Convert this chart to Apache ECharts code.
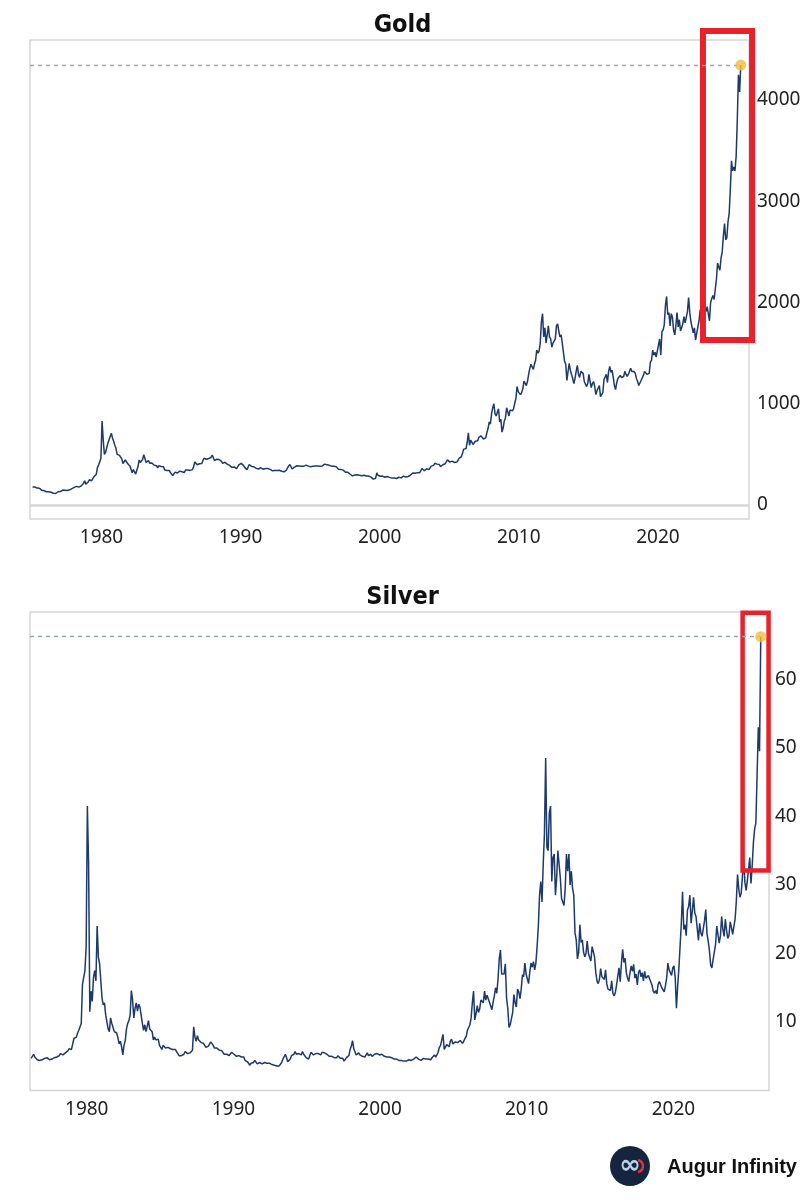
<!DOCTYPE html>
<html>
<head>
<meta charset="utf-8">
<script src="https://cdn.jsdelivr.net/npm/echarts@6/dist/echarts.min.js"></script>
<style>
html,body{margin:0;padding:0;background:#fff;}
#c{width:805px;height:1200px;}
</style>
</head>
<body>
<div id="c"></div>
<script>
// ---------- DATA ----------
// Gold, monthly, Jan 1975 - Dec 2025 (USD/oz)
const goldStart = [1975, 0];
const goldValues = [
/*1975*/178,181,178,170,167,165,166,161,145,143,142,139,
/*1976*/131,132,131,128,126,125,117,104,114,116,131,134,
/*1977*/133,142,148,149,146,141,143,145,150,159,162,161,
/*1978*/174,179,184,172,177,183,189,208,214,240,206,200,
/*1979*/227,250,240,240,258,280,296,305,370,395,385,460,
/*1980*/830,640,500,520,520,610,645,630,710,660,630,590,
/*1981*/560,500,510,490,480,455,410,415,445,435,410,405,
/*1982*/385,370,320,350,335,306,345,380,445,420,415,450,
/*1983*/498,460,420,435,440,412,425,415,410,392,382,388,
/*1984*/368,388,398,380,376,378,345,350,340,338,342,318,
/*1985*/300,292,310,325,318,316,320,335,322,328,325,322,
/*1986*/346,338,345,340,342,342,350,380,425,422,398,390,
/*1987*/408,402,410,440,462,448,452,462,460,468,470,494,
/*1988*/476,440,445,452,452,450,436,432,412,405,422,418,
/*1989*/404,388,392,384,370,368,376,362,360,366,396,410,
/*1990*/412,420,392,372,368,350,364,400,390,380,382,378,
/*1991*/384,362,364,356,358,368,366,354,350,360,362,360,
/*1992*/354,352,344,338,338,342,355,342,346,344,335,334,
/*1993*/330,328,332,344,368,374,400,378,356,364,374,384,
/*1994*/388,382,386,376,382,386,384,380,394,390,384,380,
/*1995*/378,376,384,392,386,388,386,384,384,384,386,388,
/*1996*/404,412,398,394,392,385,384,388,382,380,378,368,
/*1997*/354,346,352,344,345,340,324,325,323,325,304,288,
/*1998*/288,298,296,308,298,292,294,284,290,296,294,290,
/*1999*/287,288,286,282,276,262,256,256,265,318,294,283,
/*2000*/284,302,286,280,274,286,282,274,273,270,266,272,
/*2001*/266,262,262,260,274,270,268,274,286,282,276,276,
/*2002*/282,296,294,302,316,322,314,310,320,318,320,336,
/*2003*/360,358,338,328,358,356,350,360,384,378,392,412,
/*2004*/418,404,410,400,380,392,398,402,408,422,446,440,
/*2005*/424,424,434,430,420,432,424,438,460,470,478,514,
/*2006*/552,556,558,620,712,590,640,630,598,584,630,630,
/*2007*/634,668,652,682,666,652,668,664,716,758,820,800,
/*2008*/900,960,1000,900,880,886,950,820,850,720,760,830,
/*2009*/860,960,920,880,940,940,930,950,1005,1050,1170,1120,
/*2010*/1110,1090,1110,1150,1225,1240,1180,1220,1290,1350,1390,1400,
/*2011*/1340,1390,1430,1530,1500,1520,1600,1810,1890,1660,1750,1600,
/*2012*/1680,1770,1660,1640,1560,1600,1590,1640,1770,1790,1720,1660,
/*2013*/1680,1600,1600,1420,1390,1230,1320,1400,1330,1320,1250,1200,
/*2014*/1250,1320,1380,1290,1260,1320,1320,1300,1220,1230,1170,1200,
/*2015*/1290,1220,1160,1200,1220,1170,1090,1130,1120,1180,1070,1060,
/*2016*/1110,1240,1230,1290,1210,1320,1370,1310,1330,1260,1180,1140,
/*2017*/1210,1250,1250,1280,1260,1250,1270,1320,1290,1270,1290,1300,
/*2018*/1350,1320,1330,1320,1300,1250,1220,1180,1190,1230,1220,1280,
/*2019*/1320,1310,1290,1280,1300,1410,1430,1530,1480,1510,1460,1520,
/*2020*/1580,1640,1480,1710,1730,1780,1970,2060,1880,1900,1770,1890,
/*2021*/1860,1730,1680,1770,1900,1760,1830,1720,1750,1790,1860,1800,
/*2022*/1800,1910,2050,1900,1810,1810,1700,1750,1630,1640,1760,1820,
/*2023*/1930,1820,1980,2000,1960,1910,1960,1890,1820,2000,2040,2070,
/*2024*/2030,2020,2230,2390,2350,2320,2440,2500,2660,2780,2620,2640,
/*2025*/2800,2880,3120,3400,3300,3340,3300,3440,3800,4250,4080,4345
];
// Silver, monthly, Mar 1976 - Dec 2025 (USD/oz)
const silverStart = [1976, 2];
const silverValues = [
/*1976*/4.7,4.9,5.3,4.9,4.8,4.5,4.4,4.4,4.5,4.5,
/*1977*/4.5,4.7,4.9,4.8,4.7,4.5,4.5,4.6,4.6,4.8,4.9,4.9,
/*1978*/5.0,5.1,5.4,5.2,5.2,5.4,5.5,5.6,5.8,6.1,6.0,6.0,
/*1979*/6.2,7.6,7.4,7.8,8.4,8.8,9.3,9.8,15.5,16.5,17.5,21.0,
/*1980*/41.5,33.0,11.5,14.5,13.0,16.5,17.5,16.0,24.0,19.5,18.5,16.0,
/*1981*/13.5,12.5,12.8,11.0,10.8,9.0,8.6,10.6,9.8,9.2,8.6,8.4,
/*1982*/8.4,7.7,6.8,7.2,6.4,5.2,6.6,7.3,9.0,9.8,10.2,11.0,
/*1983*/14.6,13.2,10.6,12.0,12.8,11.6,12.6,12.2,11.0,9.8,8.8,9.6,
/*1984*/8.6,9.4,10.2,9.0,8.8,8.6,7.4,7.8,7.4,7.2,7.5,6.6,
/*1985*/6.3,6.0,6.6,6.4,6.2,6.1,6.3,6.3,6.1,6.2,6.0,5.9,
/*1986*/6.0,5.7,5.6,5.1,5.2,5.1,5.0,5.3,5.7,5.6,5.4,5.4,
/*1987*/5.5,5.5,5.9,9.3,7.8,7.2,8.0,7.4,7.6,7.0,6.8,6.9,
/*1988*/6.6,6.3,6.4,6.5,6.6,7.1,6.9,6.6,6.2,6.2,6.2,6.1,
/*1989*/5.9,5.8,5.8,5.7,5.3,5.2,5.3,5.1,5.1,5.2,5.6,5.6,
/*1990*/5.3,5.3,5.0,5.0,5.1,5.0,4.9,4.8,4.9,4.4,4.2,4.2,
/*1991*/4.0,3.7,4.0,4.0,4.1,4.4,4.3,3.9,4.1,4.1,4.0,3.9,
/*1992*/4.1,4.1,4.0,4.0,4.0,4.0,3.9,3.8,3.8,3.7,3.7,3.6,
/*1993*/3.7,3.6,3.6,4.1,4.6,4.4,5.3,4.8,4.2,4.3,4.6,5.1,
/*1994*/5.2,5.3,5.7,5.3,5.4,5.4,5.3,5.2,5.7,5.3,5.1,4.8,
/*1995*/4.7,4.6,4.5,5.6,5.4,5.2,5.2,5.4,5.5,5.4,5.2,5.2,
/*1996*/5.6,5.6,5.5,5.4,5.3,5.1,5.0,5.2,5.0,4.8,4.8,4.8,
/*1997*/4.8,5.1,5.2,4.7,4.8,4.7,4.3,4.5,4.8,5.0,5.1,6.0,
/*1998*/6.5,7.3,6.1,6.3,5.2,5.3,5.5,5.2,5.0,5.0,5.0,4.9,
/*1999*/5.2,5.5,5.1,5.0,5.3,5.0,5.2,5.3,5.5,5.4,5.2,5.2,
/*2000*/5.2,5.3,5.1,5.0,5.0,4.9,4.9,4.9,4.9,4.8,4.7,4.6,
/*2001*/4.7,4.6,4.4,4.4,4.4,4.4,4.2,4.3,4.4,4.3,4.2,4.5,
/*2002*/4.5,4.4,4.6,4.6,4.8,4.9,5.0,4.6,4.6,4.4,4.5,4.7,
/*2003*/4.9,4.6,4.5,4.6,4.6,4.5,4.8,5.0,5.2,4.9,5.2,5.6,
/*2004*/6.3,6.6,7.4,8.2,6.0,6.0,6.7,6.6,6.4,7.2,7.5,6.8,
/*2005*/6.7,7.1,7.3,7.0,7.0,7.3,7.1,6.9,7.2,7.6,7.9,8.8,
/*2006*/9.2,9.6,10.6,12.8,14.5,10.3,11.2,12.4,11.4,11.9,13.2,13.4,
/*2007*/12.8,14.5,13.2,13.9,13.4,12.9,12.9,11.8,12.9,13.8,15.0,14.2,
/*2008*/16.2,19.2,20.5,17.0,16.8,17.0,18.5,13.5,12.0,9.2,9.6,10.5,
/*2009*/11.4,14.0,12.8,12.2,14.8,14.4,13.4,14.8,16.9,16.6,18.6,17.0,
/*2010*/17.2,15.6,17.3,18.6,18.0,18.8,17.6,18.6,21.0,24.0,28.5,30.5,
/*2011*/27.5,33.0,37.5,48.5,35.5,35.0,40.5,41.5,30.5,34.0,34.5,28.5,
/*2012*/31.0,35.0,33.0,31.0,28.0,27.5,27.0,29.5,34.5,32.0,34.5,30.0,
/*2013*/32.0,29.5,28.5,23.0,22.0,19.2,20.2,24.2,21.6,22.0,20.2,19.5,
/*2014*/20.0,21.8,20.0,19.4,18.9,21.0,21.2,19.5,17.2,16.0,15.6,16.2,
/*2015*/17.8,16.6,16.6,16.2,17.6,15.6,14.8,14.6,14.6,16.0,14.2,13.8,
/*2016*/14.3,15.4,15.4,17.9,15.9,18.6,20.6,18.7,19.3,17.2,16.4,15.9,
/*2017*/17.2,18.2,17.4,18.4,16.4,17.0,15.4,17.2,17.6,16.6,17.2,16.0,
/*2018*/17.4,16.4,16.5,16.8,16.3,16.5,15.4,14.5,14.2,14.6,14.1,15.5,
/*2019*/15.9,15.8,15.0,14.9,14.4,15.3,16.4,18.6,17.6,17.8,16.8,17.9,
/*2020*/18.2,16.5,12.0,15.2,17.8,17.8,24.4,29.0,23.5,24.2,22.6,26.3,
/*2021*/26.9,28.5,24.4,26.2,28.2,25.9,25.4,23.7,21.9,24.4,23.0,22.5,
/*2022*/22.3,24.8,26.4,22.9,21.8,20.4,18.3,17.9,19.1,19.2,21.3,24.0,
/*2023*/23.8,21.5,22.6,25.4,23.5,22.5,25.0,23.4,22.2,22.6,24.6,23.8,
/*2024*/22.8,22.6,25.0,27.6,31.5,29.4,28.2,28.8,31.2,33.8,30.4,29.2,
/*2025*/30.6,32.2,34.0,30.2,32.8,36.2,38.2,39.0,46.0,53.0,49.5,66.2
];
const goldTicks = [0, 1000, 2000, 3000, 4000];
const silverTicks = [10, 20, 30, 40, 50, 60];
const yearTicks = [1980, 1990, 2000, 2010, 2020];
// highlight boxes, in data terms: [fromYear, toYear, low, high]
const goldHighlight = [2023.24, 2026.77, 1630, 4681];
const silverHighlight = [2024.72, 2026.49, 32.1, 69.7];

// ---------- helpers ----------
// x positions are decimal years (mid-month)
function buildSeries(start, values) {
  return values.map((v, i) => [start[0] + (start[1] + i + 0.5) / 12, v]);
}
const goldData = buildSeries(goldStart, goldValues);
const silverData = buildSeries(silverStart, silverValues);

const LINE = '#1c3a6c';
const FONT = 'Noto Sans';
const BORDER = '#d6d6d6';
const TITLE_FONT = 'Liberation Sans Narrow, DejaVu Sans Condensed';

function xAxisCfg(gridIndex, min, max) {
  return {
    type: 'value', gridIndex, min, max,
    axisLine: {show: false}, axisTick: {show: false}, splitLine: {show: false},
    axisLabel: {
      customValues: yearTicks, margin: 9,
      color: '#222', fontSize: 19, fontFamily: FONT,
      formatter: v => String(Math.round(v))
    }
  };
}
function yAxisCfg(gridIndex, min, max, ticks, margin) {
  return {
    type: 'value', gridIndex, position: 'right', min, max,
    axisLine: {show: false}, axisTick: {show: false}, splitLine: {show: false},
    axisLabel: {customValues: ticks, margin, color: '#222', fontSize: 19, fontFamily: FONT,
      formatter: v => String(Math.round(v))}
  };
}
function lineSeries(idx, data, hl, hlWidth, withZero, axisMin) {
  const last = data[data.length - 1];
  const series = [];
  if (withZero) {
    series.push({
      type: 'line', xAxisIndex: idx, yAxisIndex: idx, data: [], silent: true,
      markLine: {silent: true, symbol: 'none', label: {show: false}, animation: false,
        lineStyle: {color: BORDER, type: 'solid', width: 2.5}, data: [{yAxis: 0}]}
    });
  }
  series.push({
    type: 'line', xAxisIndex: idx, yAxisIndex: idx, data,
    showSymbol: false, symbol: 'none', animation: false,
    lineStyle: {color: LINE, width: 1.5}, z: 3,
    markLine: {
      silent: true, symbol: 'none', label: {show: false}, animation: false,
      lineStyle: {color: '#9da3b8', type: [4, 4], width: 1.3},
      data: [[{coord: [axisMin, last[1]]}, {coord: [last[0], last[1]]}]]
    }
  });
  // red highlight box, placed through the axes
  series.push({
    type: 'custom', xAxisIndex: idx, yAxisIndex: idx, clip: false, silent: true, z: 4,
    data: [hl], encode: {x: [0, 1], y: [2, 3]},
    renderItem: (params, api) => {
      const p0 = api.coord([api.value(0), api.value(3)]);
      const p1 = api.coord([api.value(1), api.value(2)]);
      return {type: 'rect', shape: {x: p0[0], y: p0[1], width: p1[0] - p0[0], height: p1[1] - p0[1]},
        style: {fill: 'none', stroke: '#e8212b', lineWidth: hlWidth}};
    }
  });
  series.push({
    type: 'scatter', xAxisIndex: idx, yAxisIndex: idx, data: [last],
    symbol: 'circle', symbolSize: 11, animation: false, z: 5,
    itemStyle: {color: '#f2bd3c'}
  });
  return series;
}

const chart = echarts.init(document.getElementById('c'), null, {renderer: 'canvas'});
chart.setOption({
  backgroundColor: '#fff',
  animation: false,
  title: [
    {text: 'Gold', left: 'center', top: 8, textStyle: {fontFamily: TITLE_FONT, fontWeight: 'bold', fontSize: 25, color: '#111'}},
    {text: 'Silver', left: 'center', top: 580, textStyle: {fontFamily: TITLE_FONT, fontWeight: 'bold', fontSize: 25, color: '#111'}}
  ],
  grid: [
    {left: 30, right: 56, top: 40, height: 479, show: true, borderColor: BORDER, borderWidth: 1.5, backgroundColor: 'transparent'},
    {left: 30, right: 36, top: 612, height: 478.6, show: true, borderColor: BORDER, borderWidth: 1.5, backgroundColor: 'transparent'}
  ],
  xAxis: [xAxisCfg(0, 1974.86, 2026.55), xAxisCfg(1, 1976.13, 2026.52)],
  yAxis: [yAxisCfg(0, -138, 4593, goldTicks, 8), yAxisCfg(1, 0, 69.8, silverTicks, 6)],
  series: [
    ...lineSeries(0, goldData, goldHighlight, 6, true, 1974.86),
    ...lineSeries(1, silverData, silverHighlight, 4.5, false, 1976.13)
  ],
  graphic: [
    {type: 'circle', shape: {cx: 630, cy: 1166, r: 20}, style: {fill: '#15253f'}},
    {type: 'text', style: {x: 630, y: 1166, text: '∞', fill: '#bcd0ea', font: 'bold 26px DejaVu Sans', align: 'center', verticalAlign: 'middle'}},
    {type: 'arc', shape: {cx: 637, cy: 1166, r: 6, startAngle: -1.4, endAngle: 1.4}, style: {stroke: '#e0323c', lineWidth: 2.5, fill: null}},
    {type: 'text', style: {x: 667, y: 1167, text: 'Augur Infinity', fill: '#111', font: 'bold 20px "Liberation Sans", Arial', verticalAlign: 'middle'}}
  ]
});
</script>
</body>
</html>
